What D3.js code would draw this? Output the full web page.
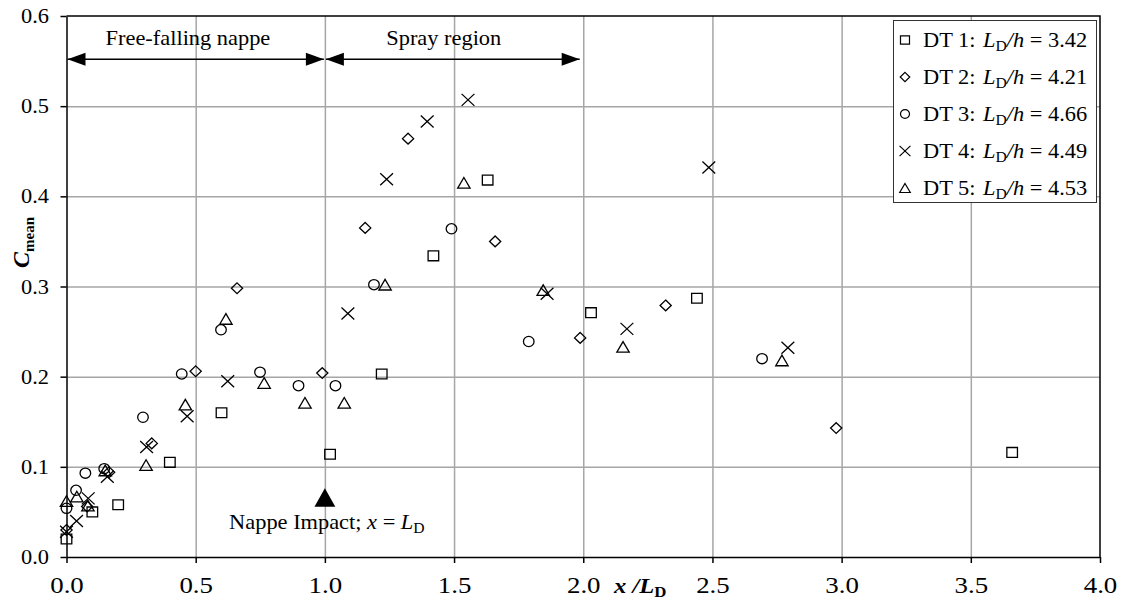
<!DOCTYPE html>
<html>
<head>
<meta charset="utf-8">
<script src="https://cdn.jsdelivr.net/npm/d3@7"></script>
<style>
  body { margin: 0; background: #fff; }
  svg { font-family: "Liberation Serif", "Times New Roman", serif; }
</style>
</head>
<body>
<svg id="chart" width="1121" height="602"></svg>
<script>
// data
const xTicks = [0, 0.5, 1.0, 1.5, 2.0, 2.5, 3.0, 3.5, 4.0];
const yTicks = [0, 0.1, 0.2, 0.3, 0.4, 0.5, 0.6];

const seriesNames = ["DT 1", "DT 2", "DT 3", "DT 4", "DT 5"];
const ldRatios = ["3.42", "4.21", "4.66", "4.49", "4.53"];
const shapes = ["square", "diamond", "circle", "cross", "triangle"];

const dt1X = [0.0, 0.10, 0.20, 0.40, 0.60, 1.02, 1.22, 1.42, 1.63, 2.03, 2.44, 3.66];
const dt1Y = [0.020, 0.050, 0.058, 0.105, 0.160, 0.114, 0.203, 0.334, 0.418, 0.271, 0.287, 0.116];

const dt2X = [0.0, 0.08, 0.165, 0.33, 0.50, 0.66, 0.99, 1.156, 1.322, 1.659, 1.988, 2.319, 2.979];
const dt2Y = [0.030, 0.056, 0.094, 0.126, 0.206, 0.298, 0.204, 0.365, 0.464, 0.350, 0.243, 0.279, 0.143];

const dt3X = [0.0, 0.037, 0.073, 0.146, 0.296, 0.446, 0.598, 0.749, 0.898, 1.041, 1.19, 1.49, 1.789, 2.692];
const dt3Y = [0.054, 0.074, 0.093, 0.098, 0.155, 0.203, 0.252, 0.205, 0.190, 0.190, 0.302, 0.364, 0.239, 0.220];

const dt4X = [0.0, 0.039, 0.084, 0.158, 0.31, 0.467, 0.624, 1.089, 1.239, 1.396, 1.554, 1.86, 2.169, 2.486, 2.792];
const dt4Y = [0.028, 0.040, 0.065, 0.089, 0.122, 0.156, 0.195, 0.270, 0.419, 0.483, 0.507, 0.292, 0.253, 0.432, 0.232];

const dt5X = [0.0, 0.04, 0.083, 0.15, 0.308, 0.46, 0.617, 0.765, 0.923, 1.075, 1.233, 1.538, 1.845, 2.154, 2.769];
const dt5Y = [0.062, 0.067, 0.057, 0.096, 0.102, 0.169, 0.264, 0.193, 0.171, 0.171, 0.302, 0.415, 0.296, 0.233, 0.218];

const regionLabels = ["Free-falling nappe", "Spray region"];
const regionStart = [0.0, 1.0];
const regionEnd = [1.0, 1.99];
const regionLabelX = [0.47, 1.46];
const regionArrowY = 0.552;
const regionLabelY = 0.568;

const impactX = 1.0;
const impactY = 0.066;
const impactLabelY = 0.031;

const seriesX = [dt1X, dt2X, dt3X, dt4X, dt5X];
const seriesY = [dt1Y, dt2Y, dt3Y, dt4Y, dt5Y];

const series = seriesNames.map((name, i) => ({
    name: name,
    ratio: ldRatios[i],
    shape: shapes[i],
    points: seriesX[i].map((v, j) => ({x: v, y: seriesY[i][j]}))
}));

const svg = d3.select("#chart");
const SX = 1.12; // the lettering in the reference is a bit wider than it is tall
const FONT = '"Liberation Serif", "Times New Roman", serif';

const x = d3.scaleLinear().domain([0, 4]).range([66.5, 1100]);
const y = d3.scaleLinear().domain([0, 0.6]).range([557, 16]);

// grid lines
svg.append("g")
    .attr("transform", `translate(0,${y(0)})`)
    .call(d3.axisBottom(x).tickValues(xTicks.slice(1, -1)).tickSize(-(y(0) - y(0.6))).tickFormat(""))
    .call(g => g.select(".domain").remove())
    .selectAll("line").attr("stroke", "#a6a6a6").attr("stroke-width", 1.5);

svg.append("g")
    .attr("transform", `translate(${x(0)},0)`)
    .call(d3.axisLeft(y).tickValues(yTicks.slice(1, -1)).tickSize(-(x(4) - x(0))).tickFormat(""))
    .call(g => g.select(".domain").remove())
    .selectAll("line").attr("stroke", "#a6a6a6").attr("stroke-width", 1.5);

// frame top + right
svg.append("path")
    .attr("d", `M${x(0)},${y(0.6)}H${x(4)}V${y(0)}`)
    .attr("fill", "none").attr("stroke", "#000").attr("stroke-width", 1.5);

// axes
const xAxis = svg.append("g")
    .attr("transform", `translate(0,${y(0)})`)
    .call(d3.axisBottom(x).tickValues(xTicks).tickSize(6).tickSizeOuter(0).tickFormat(d3.format(".1f")));
xAxis.select(".domain").attr("stroke-width", 1.5);
xAxis.selectAll(".tick line").attr("stroke-width", 1.5);
xAxis.selectAll(".tick text")
    .attr("font-family", FONT).attr("font-size", 24).attr("fill", "#000")
    .attr("y", 36).attr("dy", null)
    .attr("transform", `scale(${SX},1)`);

const yAxis = svg.append("g")
    .attr("transform", `translate(${x(0)},0)`)
    .call(d3.axisLeft(y).tickValues(yTicks).tickSize(6).tickSizeOuter(0).tickFormat(d3.format(".1f")));
yAxis.select(".domain").attr("stroke-width", 1.5);
yAxis.selectAll(".tick line").attr("stroke-width", 1.5);
yAxis.selectAll(".tick text")
    .attr("font-family", FONT).attr("font-size", 20).attr("fill", "#000")
    .attr("x", -17.5 / SX).attr("dy", "0.33em")
    .attr("transform", `scale(${SX},1)`);

// axis titles
svg.append("text")
    .attr("transform", "translate(29,268) rotate(-90)")
    .attr("font-weight", "bold")
    .call(t => t.append("tspan").attr("font-style", "italic").attr("font-size", 24).text("C"))
    .call(t => t.append("tspan").attr("font-size", 15).attr("dy", 5).text("mean"));

svg.append("g")
    .attr("transform", `translate(614,593) scale(${SX},1)`)
    .append("text")
    .attr("font-weight", "bold")
    .call(t => t.append("tspan").attr("font-style", "italic").attr("font-size", 22).text("x /L"))
    .call(t => t.append("tspan").attr("font-size", 15).attr("dy", 4).text("D"));

// region arrows
function arrowHead(g, tipX, yy, dir) {
    const len = 18, half = 6.5;
    g.append("path")
        .attr("d", `M${tipX},${yy}L${tipX - dir * len},${yy - half}L${tipX - dir * len},${yy + half}Z`)
        .attr("fill", "#000");
}

const regions = svg.append("g");
regionLabels.forEach((label, i) => {
    const ay = y(regionArrowY);
    const x0 = x(regionStart[i]) + 1, x1 = x(regionEnd[i]) - 1;
    regions.append("line")
        .attr("x1", x0).attr("x2", x1).attr("y1", ay).attr("y2", ay)
        .attr("stroke", "#000").attr("stroke-width", 1.5);
    arrowHead(regions, x0, ay, -1);
    arrowHead(regions, x1, ay, 1);
    regions.append("g")
        .attr("transform", `translate(${x(regionLabelX[i])},${y(regionLabelY)}) scale(${SX},1)`)
        .append("text")
        .attr("text-anchor", "middle").attr("font-size", 20)
        .text(label);
});

// nappe impact marker
svg.append("path")
    .attr("transform", `translate(${x(impactX)},${y(impactY)})`)
    .attr("d", "M0,-9.2L10.4,9.2L-10.4,9.2Z")
    .attr("fill", "#000");

svg.append("g")
    .attr("transform", `translate(${x(impactX) + 2},${y(impactLabelY)}) scale(${SX},1)`)
    .append("text")
    .attr("text-anchor", "middle").attr("font-size", 20)
    .style("white-space", "pre")
    .call(t => t.append("tspan").text("Nappe Impact; "))
    .call(t => t.append("tspan").attr("font-style", "italic").text("x"))
    .call(t => t.append("tspan").text(" = "))
    .call(t => t.append("tspan").attr("font-style", "italic").text("L"))
    .call(t => t.append("tspan").attr("font-size", 14).attr("dy", 4).text("D"));

// marker shapes, k scales them (legend uses smaller ones)
const shapePath = {
    square:   k => `M${-5.3 * k},${-4.9 * k}H${5.3 * k}V${4.9 * k}H${-5.3 * k}Z`,
    diamond:  k => `M0,${-5.4 * k}L${5.6 * k},0L0,${5.4 * k}L${-5.6 * k},0Z`,
    circle:   k => `M${5.3 * k},0A${5.3 * k},${5.1 * k} 0 1,1 ${-5.3 * k},0A${5.3 * k},${5.1 * k} 0 1,1 ${5.3 * k},0Z`,
    cross:    k => `M${-6.4 * k},${-6 * k}L${6.4 * k},${6 * k}M${-6.4 * k},${6 * k}L${6.4 * k},${-6 * k}`,
    triangle: k => `M0,${-5.3 * k}L${6.2 * k},${5.3 * k}L${-6.2 * k},${5.3 * k}Z`
};

const marks = svg.append("g");
series.forEach(s => {
    marks.append("g").selectAll("path")
        .data(s.points)
        .join("path")
        .attr("transform", d => `translate(${x(d.x)},${y(d.y)})`)
        .attr("d", shapePath[s.shape](1))
        .attr("fill", "none")
        .attr("stroke", "#000")
        .attr("stroke-width", 1.3);
});

// legend
const legend = svg.append("g");
legend.append("rect")
    .attr("x", 893.5).attr("y", 20.5).attr("width", 203).attr("height", 182)
    .attr("fill", "#fff").attr("stroke", "#333").attr("stroke-width", 1);

series.forEach((s, i) => {
    const ry = 40 + i * 37;
    legend.append("path")
        .attr("transform", `translate(905,${ry})`)
        .attr("d", shapePath[s.shape](0.85))
        .attr("fill", "none").attr("stroke", "#000").attr("stroke-width", 1.2);
    legend.append("g")
        .attr("transform", `translate(923,${ry + 7}) scale(${SX},1)`)
        .append("text")
        .attr("font-size", 20)
        .style("white-space", "pre")
        .call(t => t.append("tspan").text(s.name + ":"))
        .call(t => t.append("tspan").attr("x", (983 - 923) / SX).attr("font-style", "italic").text("L"))
        .call(t => t.append("tspan").attr("font-size", 14).attr("dy", 4).text("D"))
        .call(t => t.append("tspan").attr("dy", -4).attr("font-style", "italic").text("/h"))
        .call(t => t.append("tspan").text(" = " + s.ratio));
});
</script>
</body>
</html>
